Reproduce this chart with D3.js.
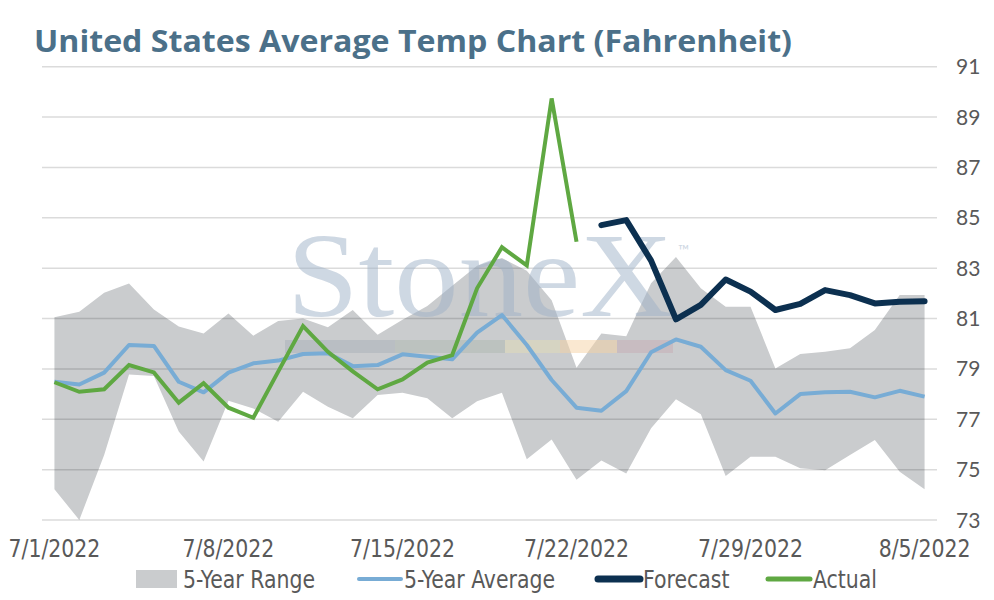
<!DOCTYPE html>
<html>
<head>
<meta charset="utf-8">
<script src="https://cdn.jsdelivr.net/npm/d3@7"></script>
<style>
  body { margin: 0; background: #fff; }
  svg { display: block; }
</style>
</head>
<body>
<svg id="chart" width="994" height="600"></svg>
<script>
// daily categories 7/1/2022 .. 8/5/2022
const days = d3.timeDay.range(new Date(2022, 6, 1), new Date(2022, 7, 6));
const tickLabels = ["7/1/2022", "7/8/2022", "7/15/2022", "7/22/2022", "7/29/2022", "8/5/2022"];
const yTicks = [73, 75, 77, 79, 81, 83, 85, 87, 89, 91];

const rangeHigh = [81.05, 81.27, 82.02, 82.39, 81.36, 80.68, 80.41, 81.2, 80.32, 80.9, 81.0, 80.65,
  81.34, 80.36, 80.95, 81.5, 82.3, 83.1, 83.4, 82.9, 81.73, 79.05, 80.41, 80.3,
  82.4, 83.44, 82.2, 81.47, 81.47, 79.02, 79.59, 79.68, 79.82, 80.54, 81.93, 81.93];
const rangeLow = [74.22, 73.0, 75.58, 78.78, 78.72, 76.51, 75.32, 77.74, 77.43, 76.9, 78.09, 77.5,
  77.04, 77.96, 78.05, 77.83, 77.04, 77.72, 78.05, 75.41, 76.2, 74.6, 75.36, 74.85,
  76.64, 77.79, 77.2, 74.75, 75.51, 75.51, 75.05, 74.98, 75.58, 76.18, 74.92, 74.22];
const avg5 = [78.49, 78.38, 78.85, 79.95, 79.91, 78.49, 78.07, 78.85, 79.22, 79.33, 79.59, 79.62,
  79.11, 79.15, 79.58, 79.48, 79.38, 80.44, 81.14, 79.95, 78.56, 77.46, 77.34, 78.12,
  79.66, 80.17, 79.88, 78.95, 78.53, 77.23, 78.0, 78.07, 78.09, 77.87, 78.13, 77.9];
const actual = [78.47, 78.09, 78.19, 79.15, 78.86, 77.66, 78.43, 77.46, 77.06, 78.89, 80.7, 79.68,
  78.9, 78.19, 78.58, 79.25, 79.55, 82.2, 83.83, 83.11, 89.74, 84.05, null, null,
  null, null, null, null, null, null, null, null, null, null, null, null];
const forecast = [null, null, null, null, null, null, null, null, null, null, null, null,
  null, null, null, null, null, null, null, null, null, null, 84.71, 84.91,
  83.3, 80.97, 81.54, 82.55, 82.07, 81.34, 81.58, 82.13, 81.93, 81.6, 81.67, 81.69];

const colors = { range: "#caccce", avg: "#78acd5", forecast: "#0c3050", actual: "#5fa842" };
const narrow = "'Liberation Sans Narrow', 'DejaVu Sans Condensed', sans-serif";
const squeeze = 0.91;

const svg = d3.select("#chart");
const plotLeft = 42, plotRight = 937, plotTop = 66.7, plotBottom = 520;

const x = d3.scalePoint().domain(d3.range(days.length)).range([plotLeft, plotRight]).padding(0.5);
const y = d3.scaleLinear().domain([73, 91]).range([plotBottom, plotTop]);

// title
svg.append("text")
  .attr("x", 34).attr("y", 52)
  .attr("font-family", "'Open Sans', Lato, sans-serif")
  .attr("font-weight", "bold")
  .attr("font-size", 31)
  .attr("textLength", 758)
  .attr("lengthAdjust", "spacingAndGlyphs")
  .attr("fill", "#4b7089")
  .text("United States Average Temp Chart (Fahrenheit)");

// 5-year range band
const area = d3.area()
  .x((d, i) => x(i))
  .y0((d, i) => y(rangeLow[i]))
  .y1(d => y(d));
svg.append("path")
  .attr("d", area(rangeHigh))
  .attr("fill", colors.range);

// gridlines
svg.append("g")
  .selectAll("line")
  .data(yTicks)
  .join("line")
  .attr("x1", plotLeft).attr("x2", plotRight)
  .attr("y1", d => y(d)).attr("y2", d => y(d))
  .attr("stroke", "#000")
  .attr("stroke-opacity", 0.14)
  .attr("stroke-width", 1.5);

// watermark
const wm = svg.append("g").attr("opacity", 0.5);
wm.append("text")
  .attr("x", 287).attr("y", 316)
  .attr("font-family", "'Liberation Serif', 'DejaVu Serif', serif")
  .attr("font-size", 120)
  .attr("textLength", 386)
  .attr("lengthAdjust", "spacingAndGlyphs")
  .attr("fill", "#9fb2c8")
  .text("StoneX");
wm.append("text")
  .attr("x", 678).attr("y", 256)
  .attr("font-family", "Lato, sans-serif")
  .attr("font-size", 15)
  .attr("fill", "#9fb2c8")
  .text("™");
const wmBar = [["#a9b2ba", 285, 395], ["#b0bab2", 395, 505], ["#e3dcb8", 505, 560], ["#f6d2a4", 560, 617], ["#c8aeb6", 617, 673]];
wm.selectAll("rect")
  .data(wmBar)
  .join("rect")
  .attr("x", d => d[1]).attr("width", d => d[2] - d[1])
  .attr("y", 340).attr("height", 13)
  .attr("fill", d => d[0]);

// lines
const line = d3.line()
  .defined(d => d != null)
  .x((d, i) => x(i))
  .y(d => y(d));

svg.append("path").attr("d", line(avg5))
  .attr("fill", "none").attr("stroke", colors.avg).attr("stroke-width", 4)
  .attr("stroke-linejoin", "round");
svg.append("path").attr("d", line(forecast))
  .attr("fill", "none").attr("stroke", colors.forecast).attr("stroke-width", 6)
  .attr("stroke-linejoin", "round").attr("stroke-linecap", "round");
svg.append("path").attr("d", line(actual))
  .attr("fill", "none").attr("stroke", colors.actual).attr("stroke-width", 4)
  .attr("stroke-linejoin", "miter");

// right y axis labels
svg.append("g")
  .selectAll("text")
  .data(yTicks)
  .join("text")
  .attr("x", 956).attr("y", d => y(d) + 7.5)
  .attr("font-family", "Lato, sans-serif")
  .attr("font-size", 21)
  .attr("fill", "#595959")
  .text(d => d);

// x axis labels every 7 days
svg.append("g")
  .selectAll("text")
  .data(tickLabels)
  .join("text")
  .attr("transform", (d, i) => `translate(${x(i * 7)},557) scale(${squeeze},1)`)
  .attr("text-anchor", "middle")
  .attr("font-family", narrow)
  .attr("font-size", 25)
  .attr("fill", "#595959")
  .text(d => d);

// legend
const legendItems = [
  { label: "5-Year Range", color: colors.range, type: "rect", x: 136 },
  { label: "5-Year Average", color: colors.avg, type: "line", x: 357, w: 4 },
  { label: "Forecast", color: colors.forecast, type: "line", x: 596, w: 7 },
  { label: "Actual", color: colors.actual, type: "line", x: 766, w: 5 }
];
const lg = svg.append("g")
  .selectAll("g")
  .data(legendItems)
  .join("g")
  .attr("transform", d => `translate(${d.x},579)`);
lg.filter(d => d.type === "rect").append("rect")
  .attr("x", 0).attr("y", -9).attr("width", 41).attr("height", 18)
  .attr("fill", d => d.color);
lg.filter(d => d.type === "line").append("line")
  .attr("x1", 2).attr("x2", 44).attr("y1", 0).attr("y2", 0)
  .attr("stroke", d => d.color).attr("stroke-width", d => d.w)
  .attr("stroke-linecap", "round");
lg.append("text")
  .attr("transform", `translate(47,9) scale(${squeeze},1)`)
  .attr("font-family", narrow)
  .attr("font-size", 25)
  .attr("fill", "#595959")
  .text(d => d.label);
</script>
</body>
</html>
